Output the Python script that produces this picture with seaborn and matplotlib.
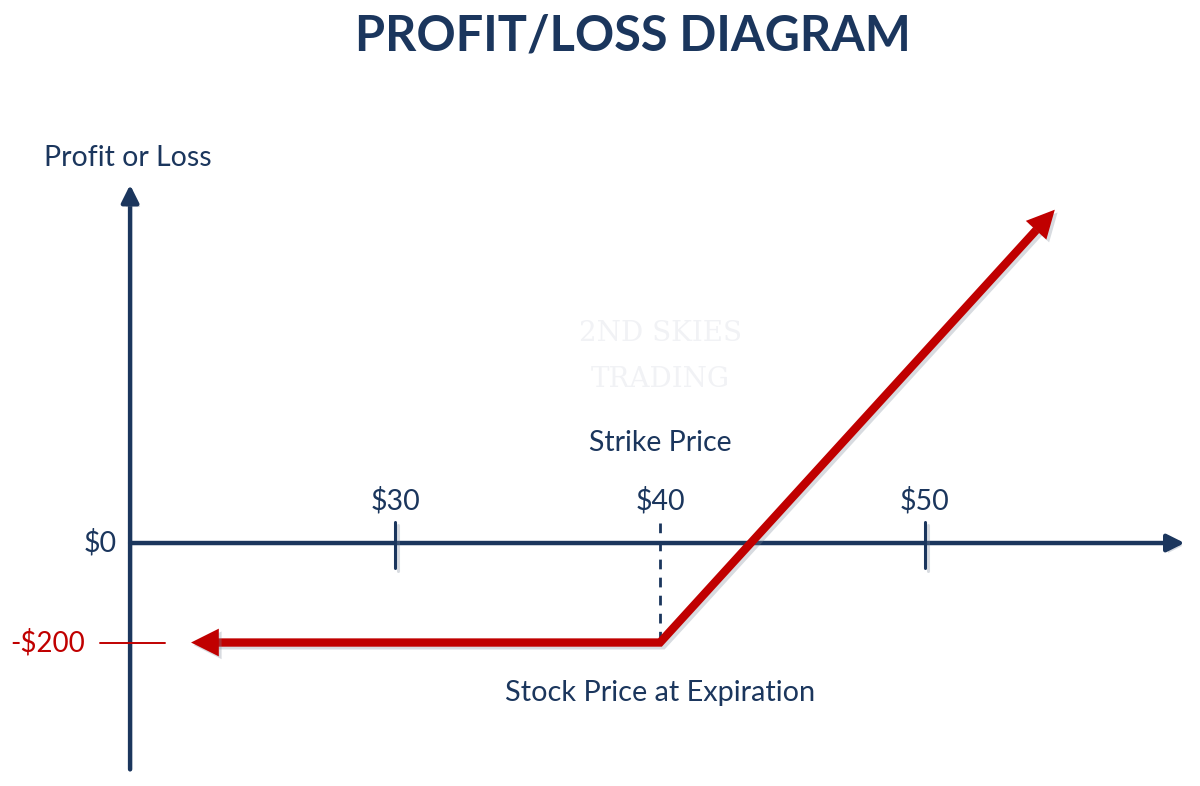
import numpy as np
import pandas as pd
import matplotlib
matplotlib.use('Agg')
import matplotlib.pyplot as plt
import matplotlib.patheffects as pe
import seaborn as sns

# ---------------- data ----------------
title = "PROFIT/LOSS DIAGRAM"
y_label = "Profit or Loss"
x_label = "Stock Price at Expiration"
strike_label = "Strike Price"
price_ticks = [30, 40, 50]
price_tick_labels = ["$30", "$40", "$50"]
strike = 40
max_loss = -200
zero_label = "$0"
loss_label = "-$200"
payoff_price = [22.3, 40, 54.9]
payoff_value = [-200, -200, 670]
x_axis_range = [20, 59.8]
y_axis_range = [-455, 720]

NAVY = '#1b365d'
RED = '#c00000'

sns.set_theme(style='white')
plt.rcParams['font.family'] = ['Lato', 'DejaVu Sans']

fig = plt.figure(figsize=(12, 7.86), dpi=100)
ax = fig.add_axes([0, 0, 1, 1])
ax.set_xlim(15.09, 60.38)
ax.set_ylim(-488.4, 1091.5)
ax.axis('off')

line_shadow = [pe.SimpleLineShadow(offset=(2, -2), shadow_color='#7f8a99', alpha=0.3), pe.Normal()]
patch_shadow = [pe.SimplePatchShadow(offset=(2, -2), shadow_rgbFace='#7f8a99', alpha=0.3), pe.Normal()]

# watermark
ax.text(strike, 422, "2ND SKIES", family='DejaVu Serif', fontsize=20, color='#f1f2f5',
        ha='center', va='center', zorder=0)
ax.text(strike, 328, "TRADING", family='DejaVu Serif', fontsize=20, color='#f1f2f5',
        ha='center', va='center', zorder=0)

# axes with arrows
ax.annotate('', xy=(x_axis_range[0], y_axis_range[1]), xytext=(x_axis_range[0], y_axis_range[0]),
            arrowprops=dict(arrowstyle='-|>', color=NAVY, lw=3.2, mutation_scale=26,
                            shrinkA=0, shrinkB=0, path_effects=patch_shadow), zorder=2)
ax.annotate('', xy=(x_axis_range[1], 0), xytext=(x_axis_range[0], 0),
            arrowprops=dict(arrowstyle='-|>', color=NAVY, lw=3.2, mutation_scale=26,
                            shrinkA=0, shrinkB=0, path_effects=patch_shadow), zorder=2)

# price ticks
for p, lab in zip(price_ticks, price_tick_labels):
    if p == strike:
        ax.plot([p, p], [40, max_loss], color=NAVY, lw=2, ls=(0, (3.5, 3)), zorder=2)
    else:
        ax.plot([p, p], [42, -50], color=NAVY, lw=2.2, zorder=2, path_effects=line_shadow)
    ax.text(p, 84, lab, color=NAVY, fontsize=20.5, ha='center', va='center')

ax.text(strike, 201, strike_label, color=NAVY, fontsize=20.5, ha='center', va='center')
ax.text(strike, -301.5, x_label, color=NAVY, fontsize=20.8, ha='center', va='center')
ax.text(x_axis_range[0] - 0.1, 774, y_label, color=NAVY, fontsize=20.5, ha='center', va='center')
ax.text(19.5, 0, zero_label, color=NAVY, fontsize=20.5, ha='right', va='center')
ax.text(18.3, max_loss, loss_label, color=RED, fontsize=20, ha='right', va='center')
ax.plot([18.85, 21.3], [max_loss, max_loss], color=RED, lw=1.4, zorder=3)

# payoff line
df = pd.DataFrame({'price': payoff_price, 'pl': payoff_value})
sns.lineplot(data=df, x='price', y='pl', sort=False, estimator=None, color=RED, lw=6, ax=ax,
             zorder=4, legend=False)
red_line = ax.lines[-1]
red_line.set_solid_capstyle('butt')
red_line.set_solid_joinstyle('miter')
red_line.set_path_effects(line_shadow)

# shorten ends so arrow heads form sharp tips
pts = ax.transData.transform(np.column_stack([payoff_price, payoff_value]))
for tip, prev in [(0, 1), (len(pts) - 1, len(pts) - 2)]:
    d = pts[tip] - pts[prev]
    pts[tip] = pts[tip] - d / np.linalg.norm(d) * 18
short = ax.transData.inverted().transform(pts)
red_line.set_data(short[:, 0], short[:, 1])

for tip, prev in [(0, 1), (len(payoff_price) - 1, len(payoff_price) - 2)]:
    ax.annotate('', xy=(payoff_price[tip], payoff_value[tip]),
                xytext=(payoff_price[prev], payoff_value[prev]),
                arrowprops=dict(arrowstyle='-|>', color=RED, lw=0, mutation_scale=50,
                                shrinkA=0, shrinkB=0, path_effects=patch_shadow), zorder=5)

fig.text(633 / 1200, 1 - 36 / 786, title, color=NAVY, fontsize=35, fontweight='bold',
         ha='center', va='center')

fig.savefig('out.png', dpi=100, facecolor='white')
